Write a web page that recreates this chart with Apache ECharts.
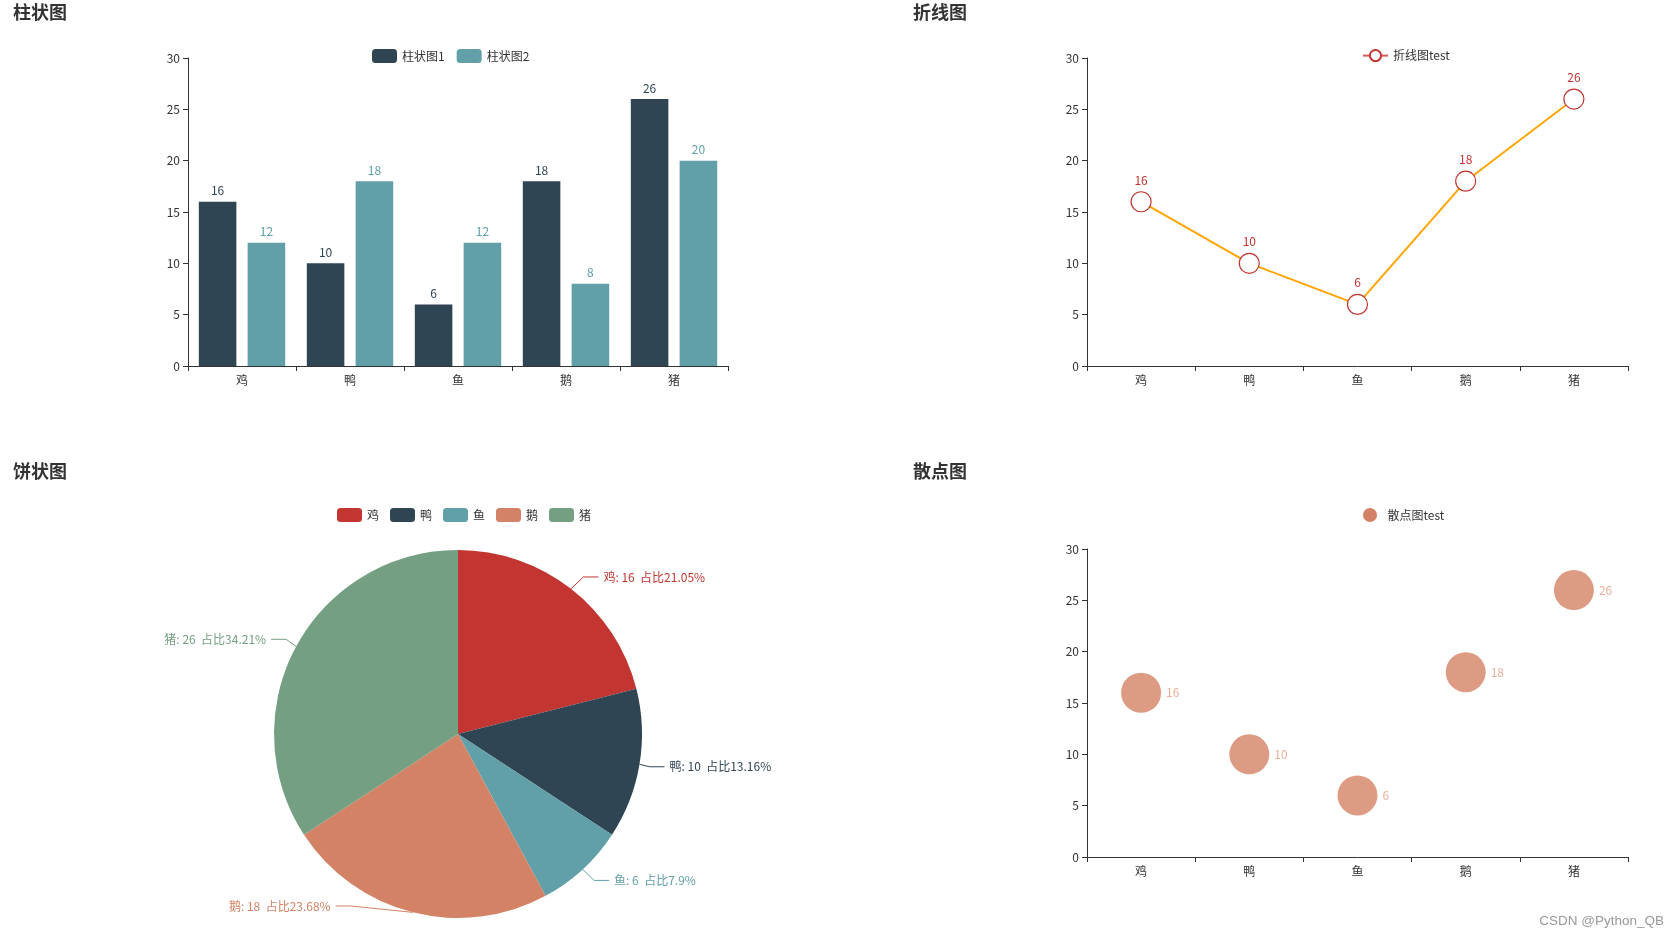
<!DOCTYPE html>
<html>
<head>
<meta charset="utf-8">
<script src="https://cdn.jsdelivr.net/npm/echarts@6/dist/echarts.min.js"></script>
<style>
html,body{margin:0;padding:0;background:#fff;}
#main{width:1678px;height:940px;}
</style>
</head>
<body>
<div id="main"></div>
<script>
const categories = ['鸡', '鸭', '鱼', '鹅', '猪'];
const barValues1 = [16, 10, 6, 18, 26];
const barValues2 = [12, 18, 12, 8, 20];
const lineValues = [16, 10, 6, 18, 26];
const pieValues = [16, 10, 6, 18, 26];
const scatterValues = [16, 10, 6, 18, 26];
const yMin = 0, yMax = 30, yInterval = 5;

const FONT = '"Microsoft YaHei", "Noto Sans CJK SC", sans-serif';
const palette = ['#c23531', '#2f4554', '#61a0a8', '#d48265', '#749f83'];

// pie geometry (pixels in the page)
const PIE_BOX_TOP = 470;
const PIE_CX = 458, PIE_CY = 734, PIE_R = 184;
const LINE_LEN = 15, LINE_LEN2 = 15, LABEL_DIST = 5;

const chart = echarts.init(document.getElementById('main'));

function titleOf(text, left, top) {
  return { text: text, left: left, top: top, padding: 0,
    textStyle: { fontSize: 18, fontWeight: 'bold', color: '#333', fontFamily: FONT } };
}
function xAxisOf(gi) {
  return { type: 'category', gridIndex: gi, data: categories, boundaryGap: true,
    axisLine: { show: true, lineStyle: { color: '#333' } },
    axisTick: { show: true, alignWithLabel: false },
    axisLabel: { color: '#333', fontSize: 12, fontFamily: FONT },
    splitLine: { show: false } };
}
function yAxisOf(gi) {
  return { type: 'value', gridIndex: gi, min: yMin, max: yMax, interval: yInterval,
    axisLine: { show: true, lineStyle: { color: '#333' } },
    axisTick: { show: true },
    axisLabel: { color: '#333', fontSize: 12, fontFamily: FONT },
    splitLine: { show: false } };
}
const legendText = { fontSize: 12, color: '#333', fontFamily: FONT };

// Classic (v4-style) outside pie label placement on a circle of radius r+len+len2
function pieLabelLayout(p) {
  const pts = p.labelLinePoints;
  if (!pts || !p.labelRect) return {};
  const edge = pts[0];
  const isLeft = edge[0] < PIE_CX;
  const dir = isLeft ? -1 : 1;
  const ly = p.labelRect.y + p.labelRect.height / 2;
  const dy = Math.abs(ly - PIE_CY);
  const R = PIE_R + LINE_LEN + LINE_LEN2;
  let dx;
  if (dy < PIE_R + LINE_LEN) {
    dx = Math.sqrt(R * R - dy * dy);
  } else {
    dx = Math.abs(pts[2][0] - PIE_CX);
  }
  const x = PIE_CX + dir * dx;
  const endX = x - dir * LABEL_DIST;
  const elbowX = endX - dir * LINE_LEN2;
  return {
    x: x, y: ly, align: isLeft ? 'right' : 'left', verticalAlign: 'middle',
    labelLinePoints: [[edge[0], edge[1]], [elbowX, ly], [endX, ly]]
  };
}

const option = {
  animation: false,
  color: palette,
  textStyle: { fontFamily: FONT },
  title: [
    titleOf('柱状图', 13, 3),
    titleOf('折线图', 913, 3),
    titleOf('饼状图', 13, 462),
    titleOf('散点图', 913, 462)
  ],
  legend: [
    { data: ['柱状图1', '柱状图2'], left: 367, top: 44, itemGap: 12, textStyle: legendText },
    { data: ['折线图test'], left: 1357, top: 44, textStyle: legendText,
      lineStyle: { color: '#d9595a' } },
    { data: categories, left: 332, top: 503, itemGap: 11, textStyle: legendText },
    { data: ['散点图test'], left: 1358, top: 503, textStyle: legendText,
      itemStyle: { color: '#d48265', opacity: 1 } }
  ],
  grid: [
    { left: 188, top: 58, width: 540, height: 308 },
    { left: 1087, top: 58, width: 541, height: 308 },
    { left: 1087, top: 549, width: 541, height: 308 }
  ],
  xAxis: [xAxisOf(0), xAxisOf(1), xAxisOf(2)],
  yAxis: [yAxisOf(0), yAxisOf(1), yAxisOf(2)],
  series: [
    { name: '柱状图1', type: 'bar', xAxisIndex: 0, yAxisIndex: 0, data: barValues1,
      barGap: '30%', barCategoryGap: '20%',
      itemStyle: { color: '#2f4554' },
      label: { show: true, position: 'top', color: '#2f4554', fontSize: 12 } },
    { name: '柱状图2', type: 'bar', xAxisIndex: 0, yAxisIndex: 0, data: barValues2,
      barGap: '30%', barCategoryGap: '20%',
      itemStyle: { color: '#61a0a8' },
      label: { show: true, position: 'top', color: '#61a0a8', fontSize: 12 } },
    { name: '折线图test', type: 'line', xAxisIndex: 1, yAxisIndex: 1, data: lineValues,
      symbol: 'circle', symbolSize: 20,
      itemStyle: { color: '#fff', borderColor: '#c23531', borderWidth: 1.2 },
      lineStyle: { color: 'orange', width: 2 },
      label: { show: true, position: 'top', color: '#c23531', fontSize: 12 } },
    { name: '散点图test', type: 'scatter', xAxisIndex: 2, yAxisIndex: 2, data: scatterValues,
      symbolSize: 40,
      itemStyle: { color: '#d48265', opacity: 0.8 },
      label: { show: true, position: 'right', color: '#e39a80', fontSize: 12 } },
    { name: '饼状图', type: 'pie', left: 0, top: PIE_BOX_TOP, width: 839, height: 443,
      center: [PIE_CX, PIE_CY - PIE_BOX_TOP], radius: [0, PIE_R],
      data: categories.map((c, i) => ({ name: c, value: pieValues[i],
        label: { color: palette[i] } })),
      label: { show: true, formatter: '{b}: {c}  占比{d}%', fontSize: 12 },
      labelLine: { length: LINE_LEN, length2: LINE_LEN2 },
      labelLayout: pieLabelLayout }
  ],
  graphic: [
    { type: 'text', right: 14, top: 914,
      style: { text: 'CSDN @Python_QB', fill: '#999', font: '13.5px "Liberation Sans", Arial, sans-serif' } }
  ]
};
chart.setOption(option);
</script>
</body>
</html>
